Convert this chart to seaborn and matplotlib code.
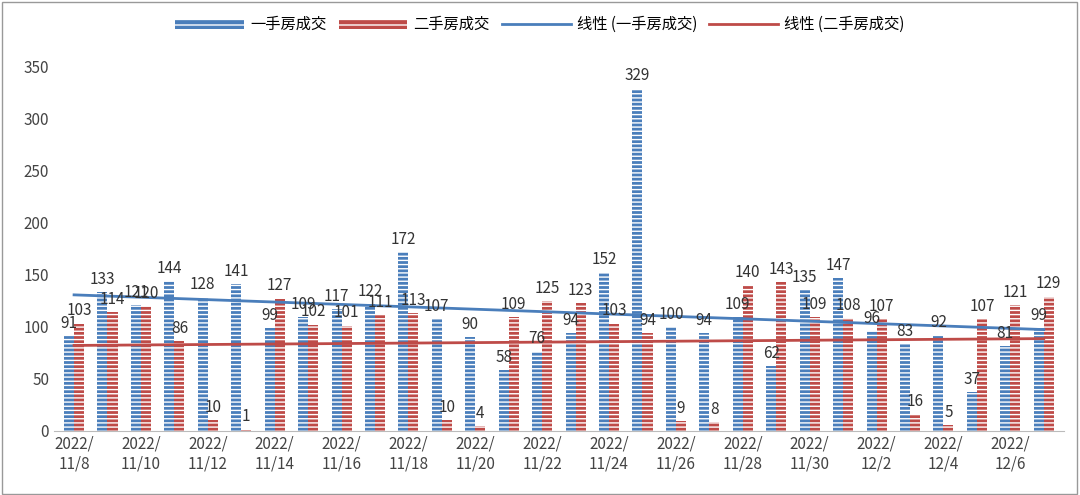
import numpy as np
import pandas as pd
import seaborn as sns
import matplotlib.pyplot as plt
from matplotlib.patches import Rectangle

plt.rcParams["font.family"] = "sans-serif"
plt.rcParams["font.sans-serif"] = ["Noto Sans CJK SC", "Noto Sans CJK JP", "DejaVu Sans"]
plt.rcParams["hatch.linewidth"] = 1.0
plt.rcParams["hatch.color"] = "white"

DATES = ["11/8", "11/9", "11/10", "11/11", "11/12", "11/13", "11/14", "11/15",
         "11/16", "11/17", "11/18", "11/19", "11/20", "11/21", "11/22", "11/23",
         "11/24", "11/25", "11/26", "11/27", "11/28", "11/29", "11/30", "12/1",
         "12/2", "12/3", "12/4", "12/5", "12/6", "12/7"]
NEW_HOMES = [91, 133, 121, 144, 128, 141, 99, 109, 117, 122, 172, 107, 90, 58, 76,
             94, 152, 329, 100, 94, 109, 62, 135, 147, 96, 83, 92, 37, 81, 99]
RESALE = [103, 114, 120, 86, 10, 1, 127, 102, 101, 111, 113, 10, 4, 109, 125,
          123, 103, 94, 9, 8, 140, 143, 109, 108, 107, 16, 5, 107, 121, 129]

S1, S2 = "一手房成交", "二手房成交"
BLUE, RED = "#4a7ebb", "#be4b48"

df = pd.DataFrame({"date": DATES, S1: NEW_HOMES, S2: RESALE})
long_df = df.melt(id_vars="date", var_name="type", value_name="count")

fig, ax = plt.subplots(figsize=(10.8, 4.95), dpi=100)
sns.barplot(data=long_df, x="date", y="count", hue="type", palette=[BLUE, RED],
            width=0.6, ax=ax, legend=False)
for cont, col in zip(ax.containers, [BLUE, RED]):
    for bar in cont:
        bar.set_facecolor(col)
        bar.set_edgecolor("white")
        bar.set_hatch("----")
        bar.set_linewidth(0)
    ax.bar_label(cont, fontsize=11, color="#333333", padding=3)

x = np.arange(len(DATES))
for vals, col in [(NEW_HOMES, BLUE), (RESALE, RED)]:
    k, b = np.polyfit(x, vals, 1)
    sns.lineplot(x=x, y=k * x + b, color=col, linewidth=2, ax=ax)

ax.set_xticks(x[::2])
ax.set_xticklabels([f"2022/\n{d}" for d in DATES[::2]], fontsize=11, color="#444444")
ax.set_ylim(0, 350)
ax.set_yticks(range(0, 351, 50))
ax.tick_params(axis="y", labelsize=11, colors="#444444", length=0)
ax.tick_params(axis="x", length=0)
ax.set_xlim(-0.6, len(DATES) - 0.4)
ax.set_xlabel("")
ax.set_ylabel("")
for s in ["top", "right", "left"]:
    ax.spines[s].set_visible(False)
ax.spines["bottom"].set_color("#bbbbbb")

handles = [Rectangle((0, 0), 1, 1, facecolor=BLUE, edgecolor="white", hatch="---", lw=0),
           Rectangle((0, 0), 1, 1, facecolor=RED, edgecolor="white", hatch="---", lw=0),
           plt.Line2D([], [], color=BLUE, lw=2), plt.Line2D([], [], color=RED, lw=2)]
fig.legend(handles, [S1, S2, "线性 (一手房成交)", "线性 (二手房成交)"], loc="upper center",
           ncol=4, frameon=False, fontsize=11, bbox_to_anchor=(0.5, 0.995),
           handlelength=4.5, handleheight=0.6, columnspacing=0.8, handletextpad=0.4)
fig.patches.append(Rectangle((0.002, 0.003), 0.995, 0.993, transform=fig.transFigure,
                             fill=False, edgecolor="#999999", lw=1))
fig.subplots_adjust(left=0.05, right=0.985, top=0.865, bottom=0.13)
fig.savefig("out.png", dpi=100)
